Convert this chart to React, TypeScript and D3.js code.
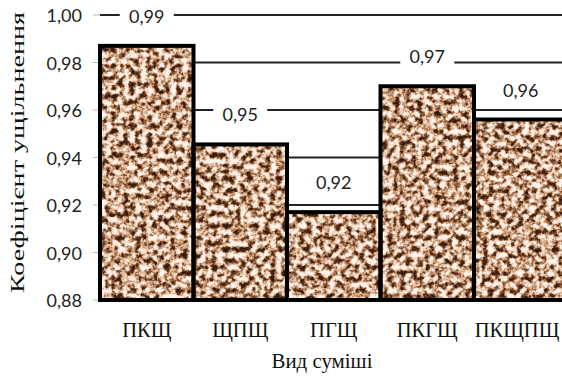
import React from "react";
import * as d3 from "d3";

// Mix types and their compaction coefficients
const categories = ["ПКЩ", "ЩПЩ", "ПГЩ", "ПКГЩ", "ПКЩПЩ"];
const values = [0.987, 0.9455, 0.917, 0.97, 0.956];
const yTicks = [0.88, 0.9, 0.92, 0.94, 0.96, 0.98, 1.0];

const yTitle = "Коефіцієнт ущільнення";
const xTitle = "Вид суміші";

const W = 562;
const H = 377;
const plotLeft = 100;
const plotRight = 567.5;
const plotTop = 15;
const plotBottom = 300;

const SANS = "Lato, 'Open Sans', 'Liberation Sans', sans-serif";
const SERIF = "'Liberation Serif', 'DejaVu Serif', serif";

const fmt = (v: number) => v.toFixed(2).replace(".", ",");

export default function App() {
  const x = d3.scaleBand<string>().domain(categories).range([plotLeft, plotRight]).padding(0);
  const y = d3.scaleLinear().domain([0.88, 1.0]).range([plotBottom, plotTop]);

  const bars = categories.map((c, i) => ({
    cat: c,
    value: values[i],
    x: x(c) as number,
    w: x.bandwidth(),
    top: y(values[i]),
  }));

  const labelOffset = 30;
  const boxW = 54;
  const boxH = 36;

  return (
    <svg
      width={W}
      height={H}
      viewBox={`0 0 ${W} ${H}`}
      style={{ position: "absolute", left: 0, top: 0, background: "#fff", display: "block" }}
    >
      <defs>
        <filter
          id="granite"
          filterUnits="userSpaceOnUse"
          x={plotLeft - 5}
          y={0}
          width={plotRight - plotLeft + 10}
          height={plotBottom + 10}
          colorInterpolationFilters="sRGB"
        >
          <feTurbulence type="fractalNoise" baseFrequency="0.17" numOctaves={3} seed={11} />
          <feColorMatrix
            type="matrix"
            values="2.1 0 0 0 -0.48  2.1 0 0 0 -0.48  2.1 0 0 0 -0.48  0 0 0 0 1"
          />
          <feComponentTransfer>
            <feFuncR type="table" tableValues="0.2 0.32 0.6 0.85 0.96 1" />
            <feFuncG type="table" tableValues="0.11 0.18 0.4 0.68 0.88 0.96" />
            <feFuncB type="table" tableValues="0.06 0.1 0.26 0.55 0.82 0.94" />
          </feComponentTransfer>
        </filter>
        <clipPath id="barsClip">
          {bars.map((b) => (
            <rect key={b.cat} x={b.x} y={b.top} width={b.w} height={plotBottom - b.top} />
          ))}
        </clipPath>
      </defs>

      {/* y tick marks and labels */}
      {yTicks.map((t) => (
        <g key={t}>
          <line x1={plotLeft - 7} x2={plotLeft} y1={y(t)} y2={y(t)} stroke="#bbb" strokeWidth={1} />
          <text
            x={82}
            y={y(t)}
            textAnchor="end"
            dominantBaseline="central"
            fontFamily={SANS}
            fontSize={18}
            fill="#222"
          >
            {fmt(t)}
          </text>
        </g>
      ))}

      {/* horizontal gridlines */}
      {yTicks
        .filter((t) => t > 0.88)
        .map((t) => (
          <line
            key={`g${t}`}
            x1={plotLeft}
            x2={W}
            y1={y(t)}
            y2={y(t)}
            stroke="#222"
            strokeWidth={2}
          />
        ))}

      {/* textured bars */}
      <g clipPath="url(#barsClip)">
        <rect
          x={plotLeft}
          y={plotTop}
          width={plotRight - plotLeft}
          height={plotBottom - plotTop}
          filter="url(#granite)"
        />
      </g>
      {bars.map((b) => (
        <rect
          key={`o${b.cat}`}
          x={b.x}
          y={b.top}
          width={b.w}
          height={plotBottom - b.top}
          fill="none"
          stroke="#000"
          strokeWidth={4}
        />
      ))}

      {/* baseline */}
      <line x1={plotLeft} x2={W} y1={plotBottom} y2={plotBottom} stroke="#000" strokeWidth={4} />

      {/* value labels */}
      {bars.map((b) => {
        const cx = b.x + b.w / 2;
        const cy = b.top - labelOffset;
        return (
          <g key={`l${b.cat}`}>
            <rect x={cx - boxW / 2} y={cy - boxH / 2} width={boxW} height={boxH} fill="#fff" />
            <text
              x={cx}
              y={cy}
              textAnchor="middle"
              dominantBaseline="central"
              fontFamily={SANS}
              fontSize={18}
              fill="#222"
            >
              {fmt(b.value)}
            </text>
          </g>
        );
      })}

      {/* category labels, kept inside the right edge */}
      {bars.map((b) => (
        <text
          key={`c${b.cat}`}
          x={Math.min(b.x + b.w / 2, W - 45)}
          y={337}
          textAnchor="middle"
          fontFamily={SERIF}
          fontSize={20.5}
          fill="#111"
        >
          {b.cat}
        </text>
      ))}

      {/* axis titles */}
      <text
        x={322}
        y={368}
        textAnchor="middle"
        fontFamily={SERIF}
        fontSize={21}
        textLength={101}
        lengthAdjust="spacingAndGlyphs"
        fill="#111"
      >
        {xTitle}
      </text>
      <text
        transform={`translate(24, 152.5) rotate(-90)`}
        textAnchor="middle"
        fontFamily={SERIF}
        fontSize={19}
        textLength={281}
        lengthAdjust="spacingAndGlyphs"
        fill="#111"
      >
        {yTitle}
      </text>
    </svg>
  );
}
